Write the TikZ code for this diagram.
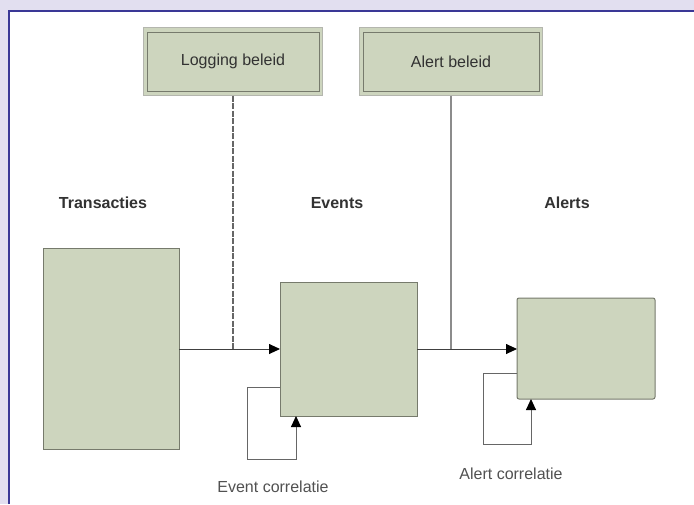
\documentclass[tikz,border=0pt]{standalone}
\usepackage{fontspec}
\setmainfont{Liberation Sans}
\usetikzlibrary{arrows.meta}
\definecolor{lav}{RGB}{226,223,240}
\definecolor{frameblue}{RGB}{58,56,150}
\definecolor{boxfill}{RGB}{205,213,190}
\definecolor{boxline}{RGB}{118,122,108}
\definecolor{txt}{RGB}{50,50,50}
\tikzset{
  x=1pt, y=-1pt,
  boxnode/.style={draw=boxline, fill=boxfill, line width=1pt, inner sep=0pt, outer sep=0pt},
  head/.style={text=txt, font=\bfseries\fontsize{16}{19}\selectfont, inner sep=0pt},
  lab/.style={text=txt!85, font=\fontsize{16}{19}\selectfont, inner sep=0pt},
  conn/.style={draw=black!75, line width=0.9pt},
  arr/.style={conn, -{Triangle[length=11pt,width=10pt,color=black]}},
  vline/.style={draw=black!60, line width=1.6pt},
}
\begin{document}
\begin{tikzpicture}
\useasboundingbox (0,0) rectangle (694,504);
\fill[lav] (0,0) rectangle (694,504);
\fill[white] (8,10) rectangle (694,504);
\draw[frameblue, line width=2.5pt] (9,504) -- (9,11) -- (694,11);

% policy boxes
\node[boxnode, draw=boxline!55, minimum width=179pt, minimum height=68pt] (lb) at (233,61.5) {};
\node[draw=boxline, line width=1pt, minimum width=172pt, minimum height=59pt, inner sep=0pt, text=txt, font=\fontsize{16}{19}\selectfont] (lbi) at (233,61.5) {Logging beleid};
\node[boxnode, draw=boxline!55, minimum width=183pt, minimum height=68pt] (ab) at (451,61.5) {};
\node[draw=boxline, line width=1pt, minimum width=176pt, minimum height=59pt, inner sep=0pt, text=txt, font=\fontsize{16}{19}\selectfont] (abi) at (451,61.5) {Alert beleid};

% headings
\node[head] (htr) at (103,203) {Transacties};
\node[head] (hev) at (337,203) {Events};
\node[head] (hal) at (567,203) {Alerts};

% main boxes
\node[boxnode, minimum width=136pt, minimum height=201pt] (tr) at (111,349) {};
\node[boxnode, minimum width=137pt, minimum height=134pt] (ev) at (348.5,349) {};
\node[boxnode, rounded corners=2pt, minimum width=138pt, minimum height=101pt] (al) at (586,348.5) {};

% policy lines
\draw[vline, dash pattern=on 6pt off 1.5pt] (lb.south) -- (lb.south |- tr.east);
\draw[vline, draw=black!45, line width=1.3pt] (ab.south) -- (ab.south |- ev.east);

% flow arrows
\draw[arr] (tr.east) -- (ev.west);
\draw[arr] (ev.east) -- (al.west |- ev.east);

% self loops
\coordinate (e1) at (247,459);
\coordinate (e2) at (296,459);
\draw[arr, draw=black!60] (ev.west |- 0,387) -| (e1) -- (e2) -- (e2 |- ev.south);
\coordinate (a1) at (483,444);
\coordinate (a2) at (531,444);
\draw[arr, draw=black!60] (al.west |- 0,373) -| (a1) -- (a2) -- (a2 |- al.south);

% labels
\node[lab] (lev) at (273,487) {Event correlatie};
\node[lab] (lal) at (511,474) {Alert correlatie};
\end{tikzpicture}
\end{document}
